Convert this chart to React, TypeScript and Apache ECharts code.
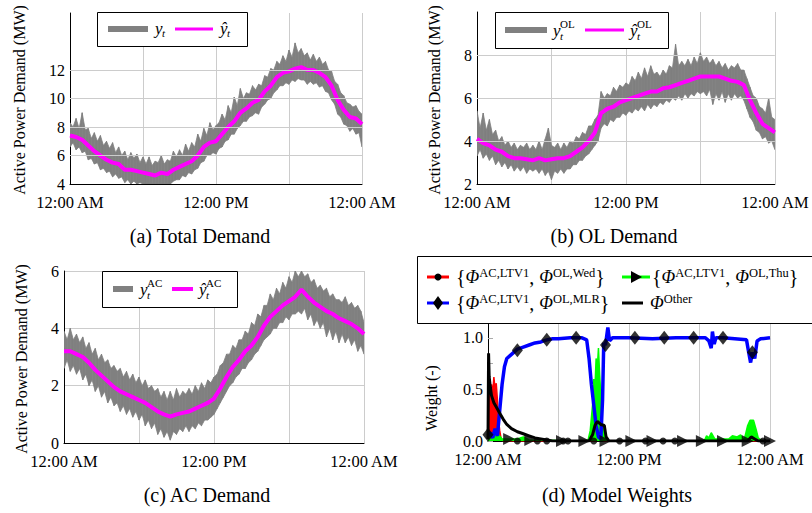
import React, { useEffect, useRef } from 'react';
import * as echarts from 'echarts';

const FONT = "'Liberation Serif', 'Times New Roman', Times, 'DejaVu Serif', serif";

// x axis: hours of day
const hourTicks = [0, 6, 12, 18, 24];
const timeLabels: Record<number, string> = { 0: '12:00 AM', 12: '12:00 PM', 24: '12:00 AM' };

// (a) Total demand, MW — measured band (upper / lower envelope, every 15 min) and forecast (every 30 min)
const totalHigh = [
  8.3, 8.0, 8.6, 7.9, 9.0, 7.8, 7.9, 7.2, 7.6, 7.0,
  7.4, 6.7, 7.0, 6.5, 6.9, 6.2, 6.6, 6.0, 6.3, 5.7,
  6.2, 5.8, 6.1, 5.5, 5.9, 5.4, 5.9, 5.3, 5.6, 5.5,
  6.0, 5.4, 5.7, 5.6, 6.3, 5.9, 6.4, 6.0, 6.8, 6.3,
  6.9, 6.6, 7.5, 7.0, 7.9, 7.4, 8.3, 7.8, 8.1, 8.3,
  8.9, 8.5, 9.5, 9.0, 10.1, 9.5, 10.7, 10.0, 10.4, 10.3,
  10.9, 10.6, 11.0, 10.9, 11.6, 11.5, 12.1, 12.0, 12.6, 12.4,
  13.0, 12.6, 13.4, 12.9, 13.9, 13.2, 13.5, 13.0, 13.2, 12.7,
  13.1, 12.6, 12.9, 12.4, 12.6, 12.0, 11.9, 11.2, 11.0, 10.4,
  10.2, 9.7, 9.6, 9.4, 9.5, 9.1, 8.9,
];
const totalLow = [
  6.6, 6.9, 6.4, 6.6, 6.2, 6.3, 5.7, 5.8, 5.4, 5.5,
  5.0, 5.1, 4.8, 4.9, 4.5, 4.7, 4.4, 4.5, 4.1, 4.3,
  3.9, 4.2, 3.8, 4.1, 3.8, 4.0, 3.7, 3.9, 3.6, 3.9,
  3.8, 3.9, 3.7, 4.0, 4.2, 4.3, 4.3, 4.6, 4.5, 4.8,
  4.7, 5.0, 5.1, 5.5, 5.6, 6.0, 6.0, 6.2, 6.1, 6.5,
  6.6, 7.0, 7.1, 7.5, 7.5, 7.9, 8.1, 8.4, 8.4, 8.7,
  8.8, 9.0, 8.9, 9.4, 9.6, 9.9, 10.0, 10.4, 10.6, 10.9,
  10.9, 11.1, 11.0, 11.3, 11.2, 11.4, 11.3, 11.3, 11.0, 11.2,
  11.0, 11.1, 10.8, 10.9, 10.5, 10.4, 9.9, 9.6, 8.9, 8.7,
  8.2, 8.1, 7.7, 7.9, 7.5, 7.6, 6.6,
];
const totalForecast = [
  7.4, 7.3, 7.1, 6.7, 6.3, 6.0, 5.7, 5.5, 5.4, 5.0,
  5.0, 4.9, 4.8, 4.7, 4.6, 4.8, 4.7, 5.0, 5.2, 5.4,
  5.6, 6.0, 6.6, 6.9, 7.0, 7.5, 8.0, 8.4, 9.0, 9.3,
  9.7, 9.9, 10.5, 10.9, 11.5, 11.8, 11.9, 12.1, 12.2, 12.0,
  12.0, 11.8, 11.5, 10.9, 9.9, 9.2, 8.7, 8.6, 8.2,
];
const totalTicks = [4, 6, 8, 10, 12];

// (b) OL demand, MW
const olHigh = [
  5.4, 4.6, 5.3, 4.5, 5.0, 4.3, 4.5, 4.0, 4.2, 3.8,
  4.0, 3.7, 3.9, 3.6, 3.8, 3.7, 3.9, 3.6, 3.8, 3.6,
  4.0, 3.6, 4.1, 4.6, 3.8, 3.7, 3.9, 3.6, 3.9, 3.7,
  4.0, 3.9, 4.2, 4.1, 4.4, 4.3, 4.7, 4.7, 5.0, 5.2,
  6.3, 6.0, 6.2, 6.1, 6.5, 6.3, 6.6, 6.5, 6.7, 6.6,
  7.0, 6.8, 7.2, 6.9, 7.4, 7.0, 7.5, 7.1, 7.2, 7.0,
  7.3, 7.1, 7.5, 7.4, 8.5, 7.5, 7.7, 7.5, 7.8, 7.5,
  7.9, 7.6, 8.1, 7.7, 7.9, 7.6, 7.8, 7.5, 7.7, 7.4,
  7.6, 7.3, 7.5, 7.4, 7.6, 7.3, 7.3, 6.9, 6.5, 6.1,
  6.0, 5.6, 5.5, 5.3, 6.0, 5.1, 5.0,
];
const olLow = [
  3.3, 3.6, 3.2, 3.4, 3.1, 3.3, 2.9, 3.1, 2.8, 3.0,
  2.7, 2.9, 2.6, 2.8, 2.6, 2.8, 2.5, 2.7, 2.6, 2.7,
  2.5, 2.7, 2.4, 2.6, 2.2, 2.6, 2.5, 2.7, 2.5, 2.7,
  2.7, 2.9, 2.9, 3.1, 3.1, 3.3, 3.4, 3.6, 3.8, 4.0,
  4.6, 4.8, 4.7, 5.0, 4.9, 5.1, 5.1, 5.3, 5.2, 5.4,
  5.3, 5.5, 5.4, 5.6, 5.4, 5.7, 5.5, 5.7, 5.6, 5.8,
  5.7, 5.9, 5.8, 6.0, 5.9, 6.1, 5.9, 6.2, 6.0, 6.2,
  6.1, 6.3, 6.2, 6.3, 6.1, 6.4, 5.7, 6.2, 5.9, 6.3,
  5.8, 6.2, 5.9, 6.2, 6.0, 6.1, 5.9, 5.5, 5.1, 4.9,
  4.5, 4.4, 4.1, 4.2, 3.9, 4.0, 3.6,
];
const olForecast = [
  4.1, 3.9, 3.8, 3.6, 3.5, 3.3, 3.2, 3.2, 3.15, 3.1,
  3.2, 3.1, 3.15, 3.2, 3.2, 3.3, 3.5, 3.7, 4.0, 4.4,
  5.3, 5.5, 5.6, 5.8, 5.9, 6.0, 6.1, 6.2, 6.3, 6.3,
  6.45, 6.5, 6.6, 6.7, 6.8, 6.9, 7.0, 7.0, 7.0, 7.0,
  6.9, 6.8, 6.75, 6.6, 5.9, 5.3, 4.8, 4.6, 4.4,
];
const olTicks = [2, 4, 6, 8];

// (c) AC demand, MW
const acHigh = [
  3.9, 3.6, 4.0, 3.6, 3.8, 3.5, 3.7, 3.3, 3.5, 3.1,
  3.3, 2.9, 3.1, 2.8, 2.9, 2.6, 2.7, 2.5, 2.6, 2.3,
  2.5, 2.2, 2.4, 2.1, 2.3, 2.0, 2.2, 1.9, 2.0, 1.8,
  1.9, 1.6, 1.8, 1.5, 1.8, 1.5, 1.9, 1.6, 1.8, 1.7,
  1.9, 1.7, 2.0, 1.8, 2.1, 1.9, 2.2, 2.1, 2.3, 2.4,
  2.7, 2.8, 3.1, 3.1, 3.4, 3.3, 3.6, 3.6, 3.9, 3.8,
  4.2, 4.1, 4.5, 4.4, 4.8, 4.8, 5.2, 5.0, 5.4, 5.2,
  5.6, 5.4, 5.8, 5.6, 6.1, 5.8, 6.2, 5.8, 5.9, 5.6,
  5.7, 5.4, 5.5, 5.3, 5.4, 5.1, 5.2, 5.0, 5.0, 4.9,
  5.1, 4.8, 4.9, 4.7, 4.8, 4.6, 4.2,
];
const acLow = [
  2.6, 2.9, 2.5, 2.7, 2.4, 2.6, 2.2, 2.4, 2.0, 2.2,
  1.8, 2.0, 1.6, 1.8, 1.4, 1.6, 1.3, 1.4, 1.1, 1.3,
  1.0, 1.2, 0.9, 1.1, 0.8, 1.0, 0.6, 0.8, 0.5, 0.7,
  0.3, 0.5, 0.2, 0.4, 0.1, 0.4, 0.3, 0.5, 0.4, 0.6,
  0.4, 0.6, 0.5, 0.7, 0.6, 0.8, 0.8, 0.9, 1.0, 1.2,
  1.4, 1.6, 1.8, 2.0, 2.1, 2.3, 2.4, 2.6, 2.6, 2.8,
  2.9, 3.1, 3.2, 3.4, 3.6, 3.7, 3.8, 4.0, 4.0, 4.2,
  4.2, 4.4, 4.3, 4.5, 4.5, 4.6, 4.5, 4.7, 4.3, 4.5,
  4.1, 4.3, 4.0, 4.2, 3.7, 4.0, 3.6, 3.9, 3.5, 3.8,
  3.5, 3.7, 3.4, 3.6, 3.2, 3.4, 3.1,
];
const acForecast = [
  3.2, 3.2, 3.1, 3.0, 2.8, 2.55, 2.35, 2.15, 1.95, 1.8,
  1.7, 1.6, 1.5, 1.4, 1.25, 1.1, 1.0, 0.92, 1.0, 1.05,
  1.1, 1.2, 1.3, 1.4, 1.55, 1.9, 2.3, 2.65, 2.9, 3.2,
  3.4, 3.7, 4.1, 4.4, 4.6, 4.8, 4.95, 5.1, 5.35, 5.1,
  4.9, 4.75, 4.6, 4.5, 4.35, 4.25, 4.15, 4.0, 3.8,
];
const acTicks = [0, 2, 4, 6];

// (d) model weights: [hour, weight]
const wedWeight: [number, number][] = [
  [0, 0.02], [0.05, 0.45], [0.1, 0.3], [0.15, 0.5], [0.25, 0.35], [0.3, 0.55], [0.4, 0.45],
  [0.5, 0.62], [0.6, 0.5], [0.7, 0.56], [0.8, 0.4], [0.9, 0.2], [1.0, 0.1], [1.1, 0.03],
  [1.3, 0.0], [9.2, 0.0], [9.4, 0.02], [9.7, 0.01], [9.9, 0.0], [24, 0.0],
];
const thuWeight: [number, number][] = [
  [0, 0.0], [0.3, 0.05], [0.6, 0.1], [0.9, 0.06], [1.2, 0.02], [2.5, 0.02], [3.0, 0.04],
  [3.5, 0.01], [8.5, 0.0], [8.7, 0.1], [8.9, 0.35], [9.0, 0.6], [9.1, 0.5], [9.2, 0.8],
  [9.3, 0.7], [9.4, 0.9], [9.5, 0.65], [9.6, 0.45], [9.7, 0.2], [9.8, 0.12], [10.0, 0.03],
  [10.3, 0.0], [18.4, 0.0], [18.6, 0.05], [18.8, 0.03], [19.0, 0.08], [19.3, 0.02],
  [20.5, 0.02], [20.8, 0.05], [21.2, 0.04], [21.5, 0.06], [21.8, 0.01], [22.1, 0.15],
  [22.3, 0.2], [22.6, 0.2], [22.8, 0.12], [23.0, 0.03], [23.3, 0.0], [24, 0.0],
];
const mlrWeight: [number, number][] = [
  [0, 0.05], [0.2, 0.08], [0.4, 0.03], [0.6, 0.12], [0.8, 0.05], [1.0, 0.3], [1.2, 0.55],
  [1.4, 0.72], [1.6, 0.8], [2.0, 0.84], [2.5, 0.89], [3.0, 0.91], [3.5, 0.93], [4.0, 0.95],
  [4.5, 0.96], [5.0, 0.98], [5.5, 0.99], [6.0, 0.99], [7.0, 1.0], [8.0, 1.0], [8.4, 0.98],
  [8.6, 0.8], [8.8, 0.55], [9.0, 0.35], [9.2, 0.15], [9.4, 0.04], [9.6, 0.02], [9.75, 0.4],
  [9.85, 0.95], [10.0, 0.93], [10.2, 1.1], [10.35, 0.97], [10.6, 1.0], [12.0, 1.0],
  [14.0, 0.99], [16.0, 1.0], [18.5, 1.0], [18.8, 0.97], [19.0, 0.9], [19.1, 1.06],
  [19.25, 0.94], [19.4, 1.0], [20.0, 1.0], [21.0, 0.99], [22.0, 0.98], [22.2, 0.85],
  [22.35, 0.76], [22.5, 0.86], [22.7, 0.8], [22.9, 0.97], [23.2, 0.99], [24.0, 1.0],
];
const otherWeight: [number, number][] = [
  [0, 0.02], [0.05, 0.85], [0.1, 0.62], [0.2, 0.52], [0.3, 0.44], [0.5, 0.37], [0.8, 0.31],
  [1.0, 0.27], [1.3, 0.21], [1.6, 0.16], [2.0, 0.12], [2.5, 0.09], [3.0, 0.07], [3.5, 0.05],
  [4.0, 0.03], [4.5, 0.02], [5.0, 0.01], [5.5, 0.0], [8.6, 0.0], [8.9, 0.06], [9.1, 0.15],
  [9.3, 0.19], [9.6, 0.16], [9.9, 0.15], [10.05, 0.04], [10.3, 0.0], [22.1, 0.0],
  [22.4, 0.04], [22.7, 0.02], [23.0, 0.0], [24, 0.0],
];
const wedMarkers: [number, number][] = [
  [2.5, 0.0], [4.2, 0.0], [5.0, 0.0], [6.4, 0.0], [6.8, 0.0], [9.0, 0.0], [11.2, 0.0],
  [13.4, 0.0], [14.9, 0.0], [15.9, 0.0], [23.4, 0.0],
];
const thuMarkers: [number, number][] = [
  [1.8, 0.02], [3.6, 0.01], [6.3, 0.0], [8.2, 0.0], [10.0, 0.0], [12.2, 0.0], [14.0, 0.0],
  [16.6, 0.0], [18.2, 0.0], [20.0, 0.0], [22.1, 0.0], [24.0, 0.0],
];
const mlrMarkers: [number, number][] = [
  [0, 0.06], [2.5, 0.88], [5, 0.98], [7.5, 1.0], [10, 0.93], [12.5, 1.0], [15, 1.0],
  [17.5, 1.0], [20, 1.0], [22.5, 0.86],
];
const weightTicks = [0, 0.5, 1.0];

const GRID_COLOR = '#cccccc';
const GRAY = '#808080';
const MAGENTA = '#ff00ff';

const pairs = (arr: number[], step: number) => arr.map((v, i) => [i * step, v]);

function xAxisFor(gridIndex: number) {
  return {
    type: 'value', gridIndex, min: 0, max: 24, interval: 6,
    axisLine: { show: true, onZero: false, lineStyle: { color: '#000', width: 1 } },
    axisTick: { show: false },
    splitLine: { show: true, lineStyle: { color: GRID_COLOR, width: 1 } },
    axisLabel: {
      formatter: (v: number) => timeLabels[v] ?? '',
      fontFamily: FONT, fontSize: 16.5, color: '#000', margin: 10,
    },
  };
}

function yAxisFor(gridIndex: number, min: number, max: number, interval: number, labels: number[], split: boolean, fmt?: (v: number) => string) {
  return {
    type: 'value', gridIndex, min, max, interval,
    axisLine: { show: true, onZero: false, lineStyle: { color: '#000', width: 1 } },
    axisTick: { show: false },
    splitLine: { show: split, lineStyle: { color: GRID_COLOR, width: 1 } },
    axisLabel: {
      formatter: (v: number) => (labels.some((l) => Math.abs(l - v) < 1e-9) ? (fmt ? fmt(v) : String(v)) : ''),
      fontFamily: FONT, fontSize: 16, color: '#000', margin: 5,
    },
  };
}

function gridLines(idx: number, values: number[]) {
  return {
    type: 'line', xAxisIndex: idx, yAxisIndex: idx, data: [], z: 1, silent: true,
    markLine: {
      silent: true, symbol: ['none', 'none'], label: { show: false },
      lineStyle: { color: GRID_COLOR, type: 'solid', width: 1 },
      emphasis: { disabled: true },
      data: values.map((v) => ({ yAxis: v })),
    },
  };
}

// measured demand: filled band between low and high envelopes (one quad per 15-min step)
function bandSeries(idx: number, high: number[], low: number[]) {
  const data = high.slice(0, -1).map((h, i) => [i * 0.25, low[i], h, (i + 1) * 0.25, low[i + 1], high[i + 1]]);
  return {
    type: 'custom', xAxisIndex: idx, yAxisIndex: idx, data, z: 2, silent: true, clip: true,
    encode: { x: [0, 3], y: [1, 2, 4, 5] },
    renderItem: (params: any, api: any) => {
      const cs = params.coordSys;
      const cl = (p: number[]) => [p[0], Math.max(cs.y, Math.min(cs.y + cs.height, p[1]))];
      const a = cl(api.coord([api.value(0), api.value(1)]));
      const b = cl(api.coord([api.value(0), api.value(2)]));
      const c = cl(api.coord([api.value(3), api.value(5)]));
      const d = cl(api.coord([api.value(3), api.value(4)]));
      return {
        type: 'polygon', shape: { points: [a, b, c, d] },
        style: { fill: GRAY, stroke: GRAY, lineWidth: 0.8 },
      };
    },
  };
}

function demandSeries(idx: number, high: number[], low: number[], forecast: number[]) {
  return [
    bandSeries(idx, high, low),
    {
      type: 'line', xAxisIndex: idx, yAxisIndex: idx, data: pairs(forecast, 0.5), symbol: 'none',
      lineStyle: { color: MAGENTA, width: 4 }, z: 3, silent: true,
    },
  ];
}

const T = (x: number, y: number, text: string, size: number, extra: any = {}) => ({
  type: 'text', x, y, z: 102,
  style: { text, fontFamily: FONT, fontSize: size, fill: '#000', align: 'left', verticalAlign: 'middle', ...extra },
});
const L = (x1: number, y1: number, x2: number, y2: number, color: string, w: number) => ({
  type: 'line', z: 101, shape: { x1, y1, x2, y2 }, style: { stroke: color, lineWidth: w },
});
const R = (x: number, y: number, w: number, h: number) => ({
  type: 'rect', z: 100, shape: { x, y, width: w, height: h }, style: { fill: '#fff', stroke: '#000', lineWidth: 1 },
});
const IT = { fontStyle: 'italic' };

const legendRich = {
  p: { fontStyle: 'italic', fontSize: 18, fontFamily: FONT, lineHeight: 22 },
  s: { fontSize: 12.5, fontFamily: FONT, verticalAlign: 'top', lineHeight: 12 },
};
const RT = (x: number, y: number, text: string) => ({
  type: 'text', x, y, z: 102,
  style: { text, fontFamily: FONT, fontSize: 20, lineHeight: 22, fill: '#000', align: 'left', verticalAlign: 'middle', rich: legendRich },
});
const YT = (x: number, y: number, text: string) => ({
  type: 'text', x, y, rotation: Math.PI / 2, z: 50,
  style: { text, fontFamily: FONT, fontSize: 16, fill: '#000', align: 'center', verticalAlign: 'middle' },
});

export default function App() {
  const ref = useRef<HTMLDivElement>(null);
  useEffect(() => {
    if (!ref.current) return;
    const chart = echarts.init(ref.current, null, { renderer: 'svg' });
    const graphic: any[] = [
      YT(19, 100, 'Active Power Demand (MW)'),
      YT(434, 100, 'Active Power Demand (MW)'),
      YT(21, 359, 'Active Power Demand (MW)'),
      YT(431, 398, 'Weight (-)'),
      T(200, 236, '(a) Total Demand', 20, { align: 'center' }),
      T(614, 236, '(b) OL Demand', 20, { align: 'center' }),
      T(207, 495, '(c) AC Demand', 20, { align: 'center' }),
      T(617, 495, '(d) Model Weights', 20, { align: 'center' }),
      // legend (a)
      R(97.5, 12.5, 150, 34),
      L(108, 29, 148, 29, GRAY, 6),
      T(155, 28, 'y', 17, IT), T(162, 33, 't', 11, IT),
      L(175, 29, 213, 29, MAGENTA, 3),
      T(220, 28, 'ŷ', 17, IT), T(227, 33, 't', 11, IT),
      // legend (b)
      R(495.5, 12.5, 173, 36),
      L(505, 30, 547, 30, GRAY, 6),
      T(553, 30, 'y', 17, IT), T(560, 24, 'OL', 11), T(560, 36, 't', 11, IT),
      L(585, 30, 624, 30, MAGENTA, 3),
      T(630, 30, 'ŷ', 17, IT), T(637, 24, 'OL', 11), T(637, 36, 't', 11, IT),
      // legend (c)
      R(102.5, 271.5, 135, 36),
      L(113, 289, 133, 289, GRAY, 6),
      T(140, 289, 'y', 17, IT), T(147, 283, 'AC', 11), T(147, 295, 't', 11, IT),
      L(172, 289, 193, 289, MAGENTA, 4),
      T(199, 289, 'ŷ', 17, IT), T(206, 283, 'AC', 11), T(206, 295, 't', 11, IT),
      // legend (d)
      R(417.5, 256.5, 400, 67),
      L(427, 277, 449, 277, '#ff0000', 3),
      { type: 'circle', z: 102, shape: { cx: 438, cy: 277, r: 3.5 }, style: { fill: '#000' } },
      RT(456, 277, '{{p|Φ}{s|AC,LTV1}, {p|Φ}{s|OL,Wed}}'),
      L(622, 277, 650, 277, '#00ff00', 3),
      { type: 'polygon', z: 102, shape: { points: [[631, 271], [631, 283], [642, 277]] }, style: { fill: '#000' } },
      RT(652, 277, '{{p|Φ}{s|AC,LTV1}, {p|Φ}{s|OL,Thu}}'),
      L(427, 303, 449, 303, '#0000ff', 3),
      { type: 'polygon', z: 102, shape: { points: [[438, 296], [443, 303], [438, 310], [433, 303]] }, style: { fill: '#000' } },
      RT(456, 303, '{{p|Φ}{s|AC,LTV1}, {p|Φ}{s|OL,MLR}}'),
      L(622, 303, 643, 303, '#000', 3),
      RT(650, 303, '{p|Φ}{s|Other}'),
    ];

    const option: any = {
      animation: false,
      backgroundColor: '#fff',
      textStyle: { fontFamily: FONT },
      grid: [
        { left: 70, top: 13, width: 292, height: 171 },
        { left: 477, top: 12, width: 300, height: 172 },
        { left: 64, top: 271, width: 300, height: 172 },
        { left: 488, top: 312, width: 282, height: 129 },
      ],
      xAxis: [xAxisFor(0), xAxisFor(1), xAxisFor(2), xAxisFor(3)],
      yAxis: [
        yAxisFor(0, 4, 16, 2, totalTicks, false),
        yAxisFor(1, 2, 10, 2, olTicks, false),
        yAxisFor(2, 0, 6, 2, acTicks, true),
        {
          ...yAxisFor(3, 0, 1.25, 0.25, weightTicks, false, (v) => v.toFixed(1)),
          axisTick: { show: true, inside: true, length: 5, lineStyle: { color: '#aaaaaa' } },
        },
      ],
      series: [
        gridLines(0, totalTicks.filter((v) => v > 4)),
        gridLines(1, olTicks.filter((v) => v > 2)),
        ...demandSeries(0, totalHigh, totalLow, totalForecast),
        ...demandSeries(1, olHigh, olLow, olForecast),
        ...demandSeries(2, acHigh, acLow, acForecast),
        {
          type: 'line', xAxisIndex: 3, yAxisIndex: 3, data: wedWeight, symbol: 'none', z: 2,
          lineStyle: { color: '#ff0000', width: 1.5 }, areaStyle: { color: '#ff0000', opacity: 1 },
        },
        {
          type: 'line', xAxisIndex: 3, yAxisIndex: 3, data: thuWeight, symbol: 'none', z: 3,
          lineStyle: { color: '#00ff00', width: 1.5 }, areaStyle: { color: '#00ff00', opacity: 1 },
        },
        {
          type: 'line', xAxisIndex: 3, yAxisIndex: 3, data: mlrWeight, symbol: 'none', z: 4,
          lineStyle: { color: '#0000ff', width: 3.5 },
        },
        {
          type: 'line', xAxisIndex: 3, yAxisIndex: 3, data: otherWeight, symbol: 'none', z: 5,
          lineStyle: { color: '#000000', width: 3 },
        },
        {
          type: 'scatter', xAxisIndex: 3, yAxisIndex: 3, data: wedMarkers, symbol: 'circle', symbolSize: 7,
          itemStyle: { color: '#000' }, z: 6,
        },
        {
          type: 'scatter', xAxisIndex: 3, yAxisIndex: 3, data: thuMarkers, symbol: 'triangle', symbolSize: 12,
          symbolRotate: -90, itemStyle: { color: '#000' }, z: 6,
        },
        {
          type: 'scatter', xAxisIndex: 3, yAxisIndex: 3, data: mlrMarkers, symbol: 'diamond', symbolSize: [11, 14],
          itemStyle: { color: '#000' }, z: 7,
        },
      ],
      graphic,
    };
    chart.setOption(option);
    return () => chart.dispose();
  }, []);
  return <div ref={ref} style={{ position: 'absolute', left: 0, top: 0, width: 812, height: 513 }} />;
}
